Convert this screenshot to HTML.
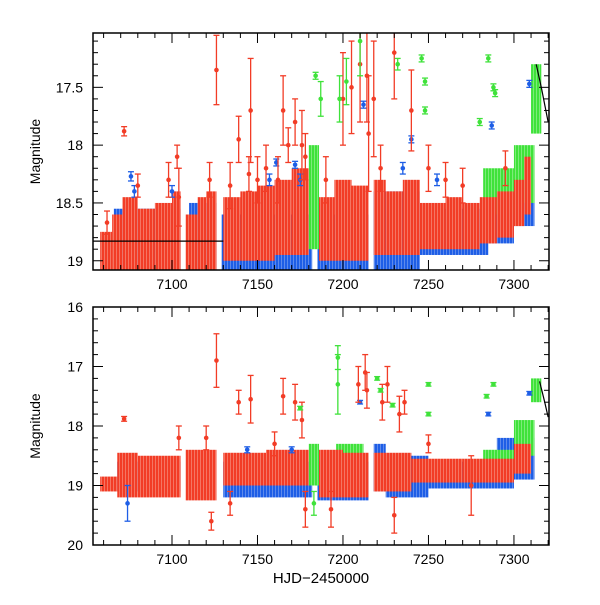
<!DOCTYPE html>
<html><head><meta charset="utf-8"><style>
body{margin:0;background:#fff}
svg text{font-family:"Liberation Sans",sans-serif;fill:#000}
</style></head><body>
<svg id="c" width="600" height="600" xmlns="http://www.w3.org/2000/svg">
<defs>
<pattern id="p-red" width="3" height="6" patternUnits="userSpaceOnUse"><rect width="3" height="6" fill="#f23c26"/><rect x="2" width="1" height="6" fill="#f57563"/></pattern>
<pattern id="p-blue" width="3" height="6" patternUnits="userSpaceOnUse"><rect width="3" height="6" fill="#1e5ee6"/><rect x="2" width="1" height="6" fill="#5d8aec"/></pattern>
<pattern id="p-green" width="3" height="6" patternUnits="userSpaceOnUse"><rect width="3" height="6" fill="#3fe23a"/><rect x="2" width="1" height="6" fill="#7cec79"/></pattern>
</defs>
</svg>
<script>
// ---- data ----
const xTicksMajor = [7100, 7150, 7200, 7250, 7300];
const topYTicks = [17.5, 18, 18.5, 19];
const botYTicks = [16, 17, 18, 19, 20];
// bands: [hjdStart, hjdEnd, magTop, magBottom]
const topRedBands = [[7058,7065,18.75,19.1],[7065,7071,18.6,19.1],[7071,7080,18.45,19.1],[7080,7090,18.55,19.1],[7090,7100,18.5,19.1],[7100,7105,18.4,19.1],[7108,7115,18.6,19.1],[7115,7120,18.45,19.1],[7120,7126,18.4,19.1],[7130,7140,18.45,19.0],[7140,7150,18.4,19.0],[7150,7160,18.35,19.0],[7160,7170,18.3,18.95],[7170,7180,18.2,18.95],[7186,7195,18.45,19.0],[7195,7205,18.3,19.0],[7205,7215,18.35,19.0],[7218,7225,18.3,18.95],[7225,7235,18.4,18.95],[7235,7245,18.3,18.95],[7245,7260,18.5,18.9],[7260,7270,18.45,18.9],[7270,7280,18.5,18.9],[7280,7290,18.45,18.85],[7290,7300,18.4,18.8],[7300,7306,18.3,18.7],[7306,7310,18.1,18.6]];
const topBlueBands = [[7066,7105,18.55,19.1],[7110,7126,18.5,19.1],[7129,7182,18.6,19.1],[7185,7192,18.5,19.1],[7192,7215,18.6,19.1],[7218,7245,18.4,19.08],[7245,7285,18.55,18.95],[7285,7300,18.45,18.85],[7300,7312,18.3,18.7]];
const topGreenBands = [[7180,7186,18.0,18.9],[7196,7210,18.4,18.7],[7282,7300,18.2,18.6],[7300,7312,18.0,18.5],[7310,7316,17.3,17.9]];
const botRedBands = [[7058,7068,18.85,19.1],[7068,7080,18.45,19.2],[7080,7105,18.5,19.2],[7108,7126,18.4,19.25],[7130,7155,18.45,19.0],[7155,7180,18.4,19.0],[7186,7200,18.4,19.2],[7200,7215,18.45,19.2],[7218,7240,18.45,19.1],[7240,7270,18.55,18.95],[7270,7300,18.55,18.95],[7300,7310,18.3,18.8]];
const botBlueBands = [[7068,7105,18.6,19.1],[7130,7182,18.6,19.2],[7185,7215,18.6,19.25],[7218,7225,18.3,19.1],[7225,7250,18.5,19.2],[7250,7300,18.6,19.05],[7290,7312,18.2,18.9]];
const botGreenBands = [[7180,7186,18.3,19.0],[7196,7212,18.3,19.1],[7282,7300,18.4,18.9],[7300,7312,17.9,18.5],[7310,7316,17.2,17.6]];
// points: [hjd, mag, err]
const topRedPts = [[7072,17.88,0.04],[7062,18.67,0.1],[7103,18.1,0.1],[7104,18.45,0.25],[7126,17.35,0.3],[7139,17.95,0.2],[7146,17.7,0.45],[7150,18.3,0.2],[7162,18.3,0.2],[7165,17.7,0.3],[7168,18.0,0.15],[7172,17.8,0.2],[7176,18.0,0.3],[7200,17.6,0.4],[7205,17.5,0.4],[7210,17.3,0.5],[7214,17.4,0.4],[7218,17.6,0.5],[7230,17.2,0.4],[7250,18.2,0.2],[7240,17.7,0.35],[7215,17.9,0.5],[7080,18.35,0.1],[7098,18.3,0.15],[7122,18.3,0.15],[7134,18.35,0.2],[7145,18.25,0.15],[7155,18.2,0.2],[7178,18.1,0.2],[7190,18.3,0.2],[7222,18.2,0.2],[7260,18.3,0.15],[7270,18.35,0.15],[7295,18.2,0.15]];
const topBluePts = [[7076,18.27,0.04],[7161,18.15,0.03],[7172,18.17,0.03],[7212,17.65,0.03],[7240,17.95,0.03],[7287,17.83,0.03],[7309,17.47,0.03],[7078,18.4,0.05],[7100,18.4,0.05],[7157,18.3,0.05],[7175,18.3,0.05],[7235,18.2,0.05],[7255,18.3,0.05]];
const topGreenPts = [[7184,17.4,0.03],[7187,17.6,0.15],[7198,17.6,0.2],[7202,17.45,0.2],[7210,17.1,0.3],[7232,17.3,0.05],[7246,17.25,0.03],[7248,17.45,0.03],[7248,17.7,0.03],[7285,17.25,0.03],[7288,17.5,0.03],[7289,17.55,0.03],[7280,17.8,0.03]];
const botRedPts = [[7072,17.88,0.04],[7126,16.9,0.45],[7139,17.6,0.2],[7146,17.55,0.4],[7165,17.5,0.3],[7172,17.6,0.3],[7176,17.9,0.3],[7209,17.3,0.3],[7213,17.1,0.3],[7214,17.4,0.3],[7223,17.6,0.3],[7226,17.3,0.3],[7233,17.8,0.3],[7230,19.5,0.3],[7236,17.6,0.2],[7275,19.0,0.5],[7193,19.4,0.3],[7104,18.2,0.2],[7120,18.2,0.2],[7123,19.6,0.15],[7134,19.3,0.2],[7178,19.4,0.3],[7160,18.3,0.2],[7250,18.3,0.15]];
const botGreenPts = [[7197,16.85,0.2],[7197,17.3,0.5],[7220,17.2,0.03],[7222,17.4,0.03],[7229,17.65,0.03],[7250,17.8,0.03],[7250,17.3,0.03],[7284,17.5,0.03],[7288,17.3,0.03],[7175,17.7,0.03],[7183,19.3,0.2]];
const botBluePts = [[7210,17.6,0.03],[7285,17.8,0.03],[7309,17.45,0.03],[7074,19.3,0.3],[7144,18.4,0.05],[7170,18.4,0.05]];
const topModel = [[7313,17.3],[7316,17.5],[7320,17.8]];
const topFlat = [[7054,18.83],[7130,18.83]];
const botModel = [[7315,17.25],[7318,17.6],[7320,17.85]];

const NS = "http://www.w3.org/2000/svg";
const svg = document.getElementById('c');
const X0=93, X1=549, XMIN=7053.8, XMAX=7320.5;
const xs = v => X0 + (v - XMIN) / (XMAX - XMIN) * (X1 - X0);
const COL = {red:'#f23c26', blue:'#1e5ee6', green:'#3fe23a'};
function mk(tag, attrs, parent){const e=document.createElementNS(NS,tag);for(const k in attrs)e.setAttribute(k,attrs[k]);(parent||svg).appendChild(e);return e;}

function panel(name, top, bot, mMin, mMax, yTicks, minorStep, bands, pts, lines){
  const g = mk('g',{});
  
  
  const ys = m => top + (m - mMin) / (mMax - mMin) * (bot - top);
  const cp = mk('clipPath',{id:name+'-clip'},g);
  mk('rect',{x:X0,y:top,width:X1-X0,height:bot-top},cp);
  const data = mk('g',{'clip-path':'url(#'+name+'-clip)'},g);
  
  
  bands.forEach(([arr,c])=>arr.forEach(b=>{
    const r = mk('rect',{x:xs(b[0]),y:ys(b[2]),width:xs(b[1])-xs(b[0]),height:ys(b[3])-ys(b[2]),fill:'url(#p-'+c+')'},data);
    
    
  }));
  pts.forEach(([arr,c])=>arr.forEach(p=>{
    const x=xs(p[0]), y1=ys(p[1]-p[2]), y2=ys(p[1]+p[2]);
    const pg = mk('g',{stroke:COL[c],'stroke-width':1.3},data);
    
    
    mk('line',{x1:x,x2:x,y1:y1,y2:y2},pg);
    mk('line',{x1:x-3,x2:x+3,y1:y1,y2:y1},pg);
    mk('line',{x1:x-3,x2:x+3,y1:y2,y2:y2},pg);
    mk('circle',{cx:x,cy:ys(p[1]),r:2.3,fill:COL[c],stroke:'none'},pg);
  }));
  lines.forEach(l=>{
    const pl = mk('polyline',{points:l.map(p=>xs(p[0])+','+ys(p[1])).join(' '),fill:'none',stroke:'#000','stroke-width':1.2},data);
    
    
  });
  const fr = mk('rect',{x:X0,y:top,width:X1-X0,height:bot-top,fill:'none',stroke:'#000','stroke-width':1.5},g);
  
  
  const tg = mk('g',{stroke:'#000','stroke-width':1},g);
  
  
  for(let v=7060; v<=7320; v+=10){
    const x=xs(v), L=(v%50===0)?10:5;
    mk('line',{x1:x,x2:x,y1:bot,y2:bot-L},tg);
    mk('line',{x1:x,x2:x,y1:top,y2:top+L},tg);
  }
  const nMin = Math.round((mMax-mMin)/minorStep);
  for(let i=0;i<=nMin;i++){
    const m = Math.ceil(mMin/minorStep)*minorStep + i*minorStep;
    if(m>mMax+1e-6) break;
    const y=ys(m);
    const isMaj = yTicks.some(t=>Math.abs(t-m)<1e-6);
    const L=isMaj?10:5;
    mk('line',{x1:X0,x2:X0+L,y1:y,y2:y},tg);
    mk('line',{x1:X1,x2:X1-L,y1:y,y2:y},tg);
  }
  yTicks.forEach(t=>{
    const tx = mk('text',{x:X0-10,y:ys(t)+5,'text-anchor':'end','font-size':14},g);
    tx.textContent = String(t);
    
    
  });
  xTicksMajor.forEach(t=>{
    const tx = mk('text',{x:xs(t),y:bot+19,'text-anchor':'middle','font-size':14},g);
    tx.textContent = String(t);
    
    
  });
  const yt = mk('text',{x:0,y:0,'text-anchor':'middle','font-size':14,transform:'translate(40,'+((top+bot)/2)+') rotate(-90)'},g);
  yt.textContent = 'Magnitude';
  
  
}
panel('top-panel',33,270,17.03,19.08,topYTicks,0.1,
  [[topBlueBands,'blue'],[topGreenBands,'green'],[topRedBands,'red']],
  [[topBluePts,'blue'],[topRedPts,'red'],[topGreenPts,'green']],[topFlat,topModel]);
panel('bottom-panel',307,545,16,20,botYTicks,0.2,
  [[botBlueBands,'blue'],[botGreenBands,'green'],[botRedBands,'red']],
  [[botBluePts,'blue'],[botRedPts,'red'],[botGreenPts,'green']],[botModel]);
const xt = mk('text',{x:321,y:583,'text-anchor':'middle','font-size':15});
xt.textContent = 'HJD\u22122450000';


</script>
</body></html>
